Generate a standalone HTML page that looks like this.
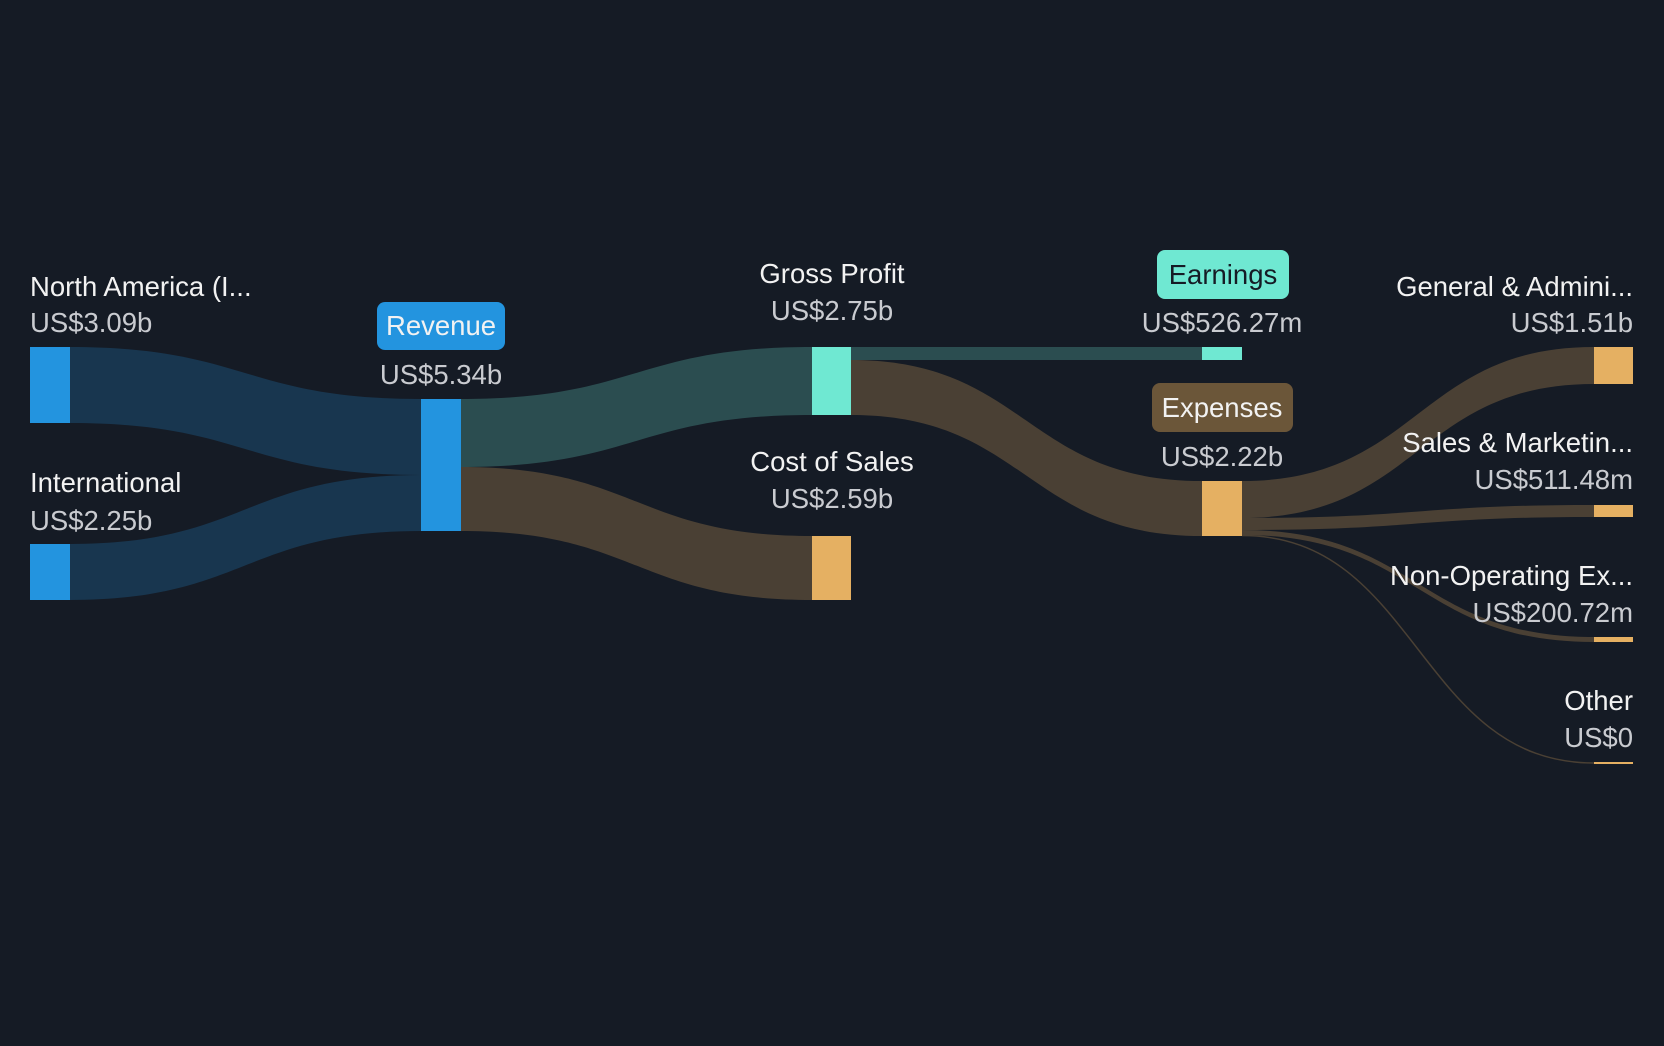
<!DOCTYPE html>
<html><head><meta charset="utf-8"><style>
html,body{margin:0;padding:0;background:#151b25;}
svg{display:block}
text{font-family:"Liberation Sans",sans-serif;font-size:27.5px;}
.l{fill:#f2f2f2}
.v{fill:#c9cbd0}
</style></head><body>
<svg width="1664" height="1046" viewBox="0 0 1664 1046" xmlns="http://www.w3.org/2000/svg">
<rect width="1664" height="1046" fill="#151b25"/>
<path d="M70,347 C245,347 245,399 421,399 L421,475 C245,475 245,423 70,423 Z" fill="#18364f"/>
<path d="M70,544 C245,544 245,475 421,475 L421,531 C245,531 245,600 70,600 Z" fill="#18364f"/>
<path d="M461,399 C636,399 636,347 812,347 L812,415 C636,415 636,467 461,467 Z" fill="#2b4d50"/>
<path d="M461,467 C636,467 636,536 812,536 L812,600 C636,600 636,531 461,531 Z" fill="#4a4034"/>
<path d="M851,347 L1202,347 L1202,360 L851,360 Z" fill="#2b4d50"/>
<path d="M851,360 C1026,360 1026,481 1202,481 L1202,536 C1026,536 1026,415 851,415 Z" fill="#4a4034"/>
<path d="M1242,481 C1418,481 1418,347 1594,347 L1594,384 C1418,384 1418,518 1242,518 Z" fill="#4a4034"/>
<path d="M1242,518 C1418,518 1418,505 1594,505 L1594,517 C1418,517 1418,530 1242,530 Z" fill="#4a4034"/>
<path d="M1242,530 C1418,530 1418,637 1594,637 L1594,642 C1418,642 1418,535 1242,535 Z" fill="#4a4034"/>
<path d="M1242,535.5 C1418,535.5 1418,763 1594,763" fill="none" stroke="#4a4034" stroke-width="1.5"/>
<rect x="30" y="347" width="40" height="76" fill="#2394df"/>
<rect x="30" y="544" width="40" height="56" fill="#2394df"/>
<rect x="421" y="399" width="40" height="132" fill="#2394df"/>
<rect x="812" y="347" width="39" height="68" fill="#6fe8d2"/>
<rect x="812" y="536" width="39" height="64" fill="#e5b062"/>
<rect x="1202" y="347" width="40" height="13" fill="#6fe8d2"/>
<rect x="1202" y="481" width="40" height="55" fill="#e5b062"/>
<rect x="1594" y="347" width="39" height="37" fill="#e5b062"/>
<rect x="1594" y="505" width="39" height="12" fill="#e5b062"/>
<rect x="1594" y="637" width="39" height="5" fill="#e5b062"/>
<rect x="1594" y="762" width="39" height="2" fill="#e5b062"/>
<text x="30" y="296" class="l">North America (I...</text>
<text x="30" y="332" class="v">US$3.09b</text>
<text x="30" y="492" class="l">International</text>
<text x="30" y="530" class="v">US$2.25b</text>
<rect x="377" y="302" width="128" height="48" rx="8" fill="#2394df"/>
<text x="441" y="335" class="l" text-anchor="middle" fill="#fff">Revenue</text>
<text x="441" y="384" class="v" text-anchor="middle">US$5.34b</text>
<text x="832" y="283" class="l" text-anchor="middle">Gross Profit</text>
<text x="832" y="320" class="v" text-anchor="middle">US$2.75b</text>
<text x="832" y="471" class="l" text-anchor="middle">Cost of Sales</text>
<text x="832" y="508" class="v" text-anchor="middle">US$2.59b</text>
<rect x="1157" y="250" width="132" height="49" rx="8" fill="#6fe8d2"/>
<text x="1223" y="284" text-anchor="middle" fill="#151b25">Earnings</text>
<text x="1222" y="332" class="v" text-anchor="middle">US$526.27m</text>
<rect x="1152" y="383" width="141" height="49" rx="8" fill="#6b5639"/>
<text x="1222" y="417" class="l" text-anchor="middle">Expenses</text>
<text x="1222" y="466" class="v" text-anchor="middle">US$2.22b</text>
<text x="1633" y="296" class="l" text-anchor="end">General &amp; Admini...</text>
<text x="1633" y="332" class="v" text-anchor="end">US$1.51b</text>
<text x="1633" y="452" class="l" text-anchor="end">Sales &amp; Marketin...</text>
<text x="1633" y="489" class="v" text-anchor="end">US$511.48m</text>
<text x="1633" y="585" class="l" text-anchor="end">Non-Operating Ex...</text>
<text x="1633" y="622" class="v" text-anchor="end">US$200.72m</text>
<text x="1633" y="710" class="l" text-anchor="end">Other</text>
<text x="1633" y="747" class="v" text-anchor="end">US$0</text>
</svg>
</body></html>
